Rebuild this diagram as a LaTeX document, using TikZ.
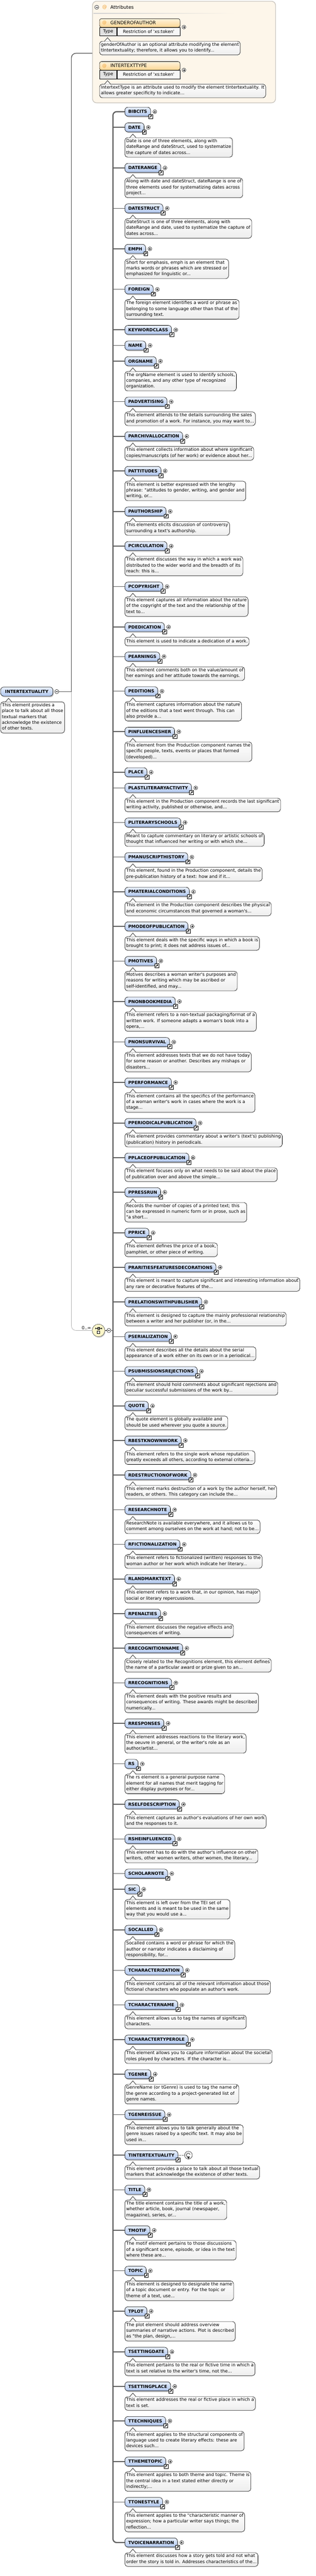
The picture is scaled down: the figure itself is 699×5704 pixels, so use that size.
\documentclass[tikz,border=0pt]{standalone}
\usepackage{fontspec}
\usepackage{tikz}
\usetikzlibrary{positioning,shadows,arrows.meta}

\newfontfamily\xsfont{DejaVu Sans}
\newcommand{\notefont}{\xsfont\fontsize{9.7}{13}\selectfont}
\newcommand{\elemfont}{\xsfont\bfseries\fontsize{9.5}{11}\selectfont}

\definecolor{elemtop}{HTML}{E9F0FC}
\definecolor{elembot}{HTML}{AFC6EE}
\definecolor{notebot}{HTML}{EDEDED}
\definecolor{attrfill}{HTML}{FDF6EA}
\definecolor{attrline}{HTML}{C9C5BE}
\definecolor{attrtop}{HTML}{FFF3DC}
\definecolor{attrbot}{HTML}{FBD694}
\definecolor{atcolor}{HTML}{F0A030}
\definecolor{typecell}{HTML}{E2E2E2}
\definecolor{compofill}{HTML}{FBF6C8}
\definecolor{linegray}{HTML}{5E5E5E}

\begin{document}
\begin{tikzpicture}[
                            x=1pt,
                            y=-1pt,
                            >=Stealth,
                            font=\notefont
                        ]
                        \tikzset{
                            expand/.style={circle,draw,fill=white,inner sep=0pt,minimum size=8.5pt,line width=.6pt,
                                path picture={\draw[line width=.6pt] (path picture bounding box.center) +(-2.3pt,0) -- +(2.3pt,0) +(0,-2.3pt) -- +(0,2.3pt);}},
                            collapse/.style={circle,draw,fill=white,inner sep=0pt,minimum size=9pt,line width=.6pt,
                                path picture={\draw[line width=.6pt] (path picture bounding box.center) +(-2.3pt,0) -- +(2.3pt,0);}},
                            refmark/.style={draw,fill=white,inner sep=0pt,minimum size=9pt,line width=.6pt,
                                path picture={\draw[line width=1.1pt,-{Triangle[length=3.2pt,width=3.6pt]}] ([shift={(-2.6pt,-2.6pt)}]path picture bounding box.center) -- ([shift={(2.8pt,2.8pt)}]path picture bounding box.center);}},
                            elembox/.style={draw,line width=.7pt,rounded corners=7pt,top color=elemtop,bottom color=elembot,
                                minimum height=20pt,inner xsep=7.5pt,inner ysep=0pt,text height=7pt,text depth=0pt,font=\elemfont,
                                drop shadow={shadow xshift=1.5pt,shadow yshift=-2.5pt,opacity=.45}},
                            elem/.style={elembox,anchor=north west,
                                label={[refmark,anchor=center]south east:{}},
                                label={[expand,label distance=4.5pt]east:{}}},
                            attrhead/.style={anchor=north west,draw,line width=.7pt,top color=attrtop,bottom color=attrbot,rounded corners=4pt,
                                minimum width=178pt,minimum height=19pt,drop shadow={shadow xshift=1.5pt,shadow yshift=-2.5pt,opacity=.4}},
                            attrcell/.style={anchor=north west,draw,line width=.7pt,minimum height=19pt,inner sep=0pt},
                            notebox/.style={draw,line width=.7pt,rounded corners=6pt,top color=white,bottom color=notebot,
                                align=left,anchor=north west,inner xsep=3pt,inner ysep=3pt,font=\notefont,
                                execute at begin node=\strut,execute at end node=\strut},
                            pointer/.style={draw,line width=.7pt,fill=white},
                            bus/.style={draw=linegray,line width=2.6pt,rounded corners=8pt},
                            link/.style={draw=linegray,line width=1.8pt},
                            attrlink/.style={draw=linegray,line width=1.6pt,rounded corners=10pt},
                            modellink/.style={draw=black!30,line width=.9pt,rounded corners=10pt}
                        }

                        \useasboundingbox (0,0) rectangle (699,5704);

                        % attributes
                        \node[draw=attrline,line width=1.5pt,fill=attrfill,rounded corners=9pt,anchor=north west,
                              minimum width=405pt,minimum height=225pt] (attrs) at (204,2) {};
                        \node[collapse] (attrsC) at (214,16) {};
                        \node[anchor=west,text=atcolor,inner sep=0pt] (attrsAt) at (226,16) {\xsfont\fontsize{10.5}{12}\selectfont @};
                        \node[anchor=west,inner sep=0pt] (attrsT) at (244,16) {\xsfont\fontsize{10.5}{12}\selectfont Attributes};
                        \shade[left color=black!18,right color=attrfill] (207,29) rectangle (520,30.2);

                        \node[attrhead] (gender) at (220,41) {};
                        \node[anchor=west,inner sep=0pt,text=atcolor] (genderAt) at ([xshift=6pt]gender.west) {@};
                        \node[anchor=west,inner sep=0pt,font=\xsfont\fontsize{10.3}{12}\selectfont] (genderT) at (244,50.5) {GENDEROFAUTHOR};
                        \node[attrcell,fill=typecell,minimum width=38pt] (genderTy) at (220,60) {Type};
                        \node[attrcell,fill=black!3,minimum width=140pt] (genderR) at (genderTy.north east) {Restriction of 'xs:token'};
                        \node[expand] (genderE) at (407,60) {};
                        \node[notebox] (genderN) at (220,91) {genderOfAuthor is an optional attribute modifying the element\\tIntertextuality; therefore, it allows you to identify...};

                        \node[attrhead] (itype) at (220,136) {};
                        \node[anchor=west,inner sep=0pt,text=atcolor] (itypeAt) at ([xshift=6pt]itype.west) {@};
                        \node[anchor=west,inner sep=0pt,font=\xsfont\fontsize{10.3}{12}\selectfont] (itypeT) at (244,145.5) {INTERTEXTTYPE};
                        \node[attrcell,fill=typecell,minimum width=38pt] (itypeTy) at (220,155) {Type};
                        \node[attrcell,fill=black!3,minimum width=140pt] (itypeR) at (itypeTy.north east) {Restriction of 'xs:token'};
                        \node[expand] (itypeE) at (407,155) {};
                        \node[notebox] (itypeN) at (220,186) {IntertextType is an attribute used to modify the element tIntertextuality. It\\allows greater specificity to indicate...};

                        % root and sequence
                        \node[elembox,anchor=north west,inner xsep=10pt] (root) at (1,1521) {INTERTEXTUALITY};
                        \node[collapse] (rootC) at ([xshift=8pt]root.east) {};
                        \node[notebox] (rootN) at ([yshift=-12pt]root.south west) {This element provides a\\place to talk about all those\\textual markers that\\acknowledge the existence\\of other texts.};
                        \coordinate (fork) at (rootC.east -| 158,0);
                        \node[circle,draw=black!70,line width=.7pt,fill=compofill,minimum size=28pt,inner sep=0pt,
                              drop shadow={shadow xshift=1.5pt,shadow yshift=-2pt,opacity=.4}] (seq) at (218,2946) {};
                        \node[anchor=south east,inner sep=1pt] (seqOcc) at ([xshift=-1pt,yshift=1pt]seq.west) {0..∞};
                        \node[collapse] (seqC) at (241,2946) {};
                        \coordinate (bus) at (250,2946);

                        \draw[attrlink] (fork) |- (attrs.west |- 0,118);
                        \draw[modellink] (fork) |- (seq.west);
                        \draw[attrlink] (rootC.east) -- (fork);
                        \draw[line width=.9pt] (seq.east) -- (seqC.west);
                        \draw[line width=.7pt] ([xshift=-7pt,yshift=4.5pt]seq.center) -- ([xshift=7pt,yshift=4.5pt]seq.center);
                        \draw[line width=.7pt] ([xshift=-7pt,yshift=6.5pt]seq.center) -- ([xshift=-7pt,yshift=2.5pt]seq.center)
                                               ([xshift=7pt,yshift=6.5pt]seq.center) -- ([xshift=7pt,yshift=2.5pt]seq.center);
                        \node[draw,fill=black!45,line width=.5pt,minimum size=5pt,inner sep=0pt] (seqA) at ([yshift=4.5pt]seq.center) {};
                        \node[draw,fill=white,line width=.5pt,minimum size=5.5pt,inner sep=0pt] (seqB) at ([yshift=-4pt]seq.center) {};

                        % children
                        \node[elem] (bibcits) at (276,237) {BIBCITS};
                        \node[elem] (date) [below=14pt of bibcits.south west,anchor=north west] {DATE};
                        \node[notebox] (dateN) [below=12pt of date.south west,anchor=north west] {Date is one of three elements, along with\\dateRange and dateStruct, used to systematize\\the capture of dates across...};
                        \node[elem] (daterange) [below=13pt of dateN.south west,anchor=north west] {DATERANGE};
                        \node[notebox] (daterangeN) [below=12pt of daterange.south west,anchor=north west] {Along with date and dateStruct, dateRange is one of\\three elements used for systematizing dates across\\project...};
                        \node[elem] (datestruct) [below=13pt of daterangeN.south west,anchor=north west] {DATESTRUCT};
                        \node[notebox] (datestructN) [below=12pt of datestruct.south west,anchor=north west] {DateStruct is one of three elements, along with\\dateRange and date, used to systematize the capture of\\dates across...};
                        \node[elem] (emph) [below=13pt of datestructN.south west,anchor=north west] {EMPH};
                        \node[notebox] (emphN) [below=12pt of emph.south west,anchor=north west] {Short for emphasis, emph is an element that\\marks words or phrases which are stressed or\\emphasized for linguistic or...};
                        \node[elem] (foreign) [below=13pt of emphN.south west,anchor=north west] {FOREIGN};
                        \node[notebox] (foreignN) [below=12pt of foreign.south west,anchor=north west] {The foreign element identifies a word or phrase as\\belonging to some language other than that of the\\surrounding text.};
                        \node[elem] (keywordclass) [below=13pt of foreignN.south west,anchor=north west] {KEYWORDCLASS};
                        \node[elem] (name) [below=14pt of keywordclass.south west,anchor=north west] {NAME};
                        \node[elem] (orgname) [below=14pt of name.south west,anchor=north west] {ORGNAME};
                        \node[notebox] (orgnameN) [below=12pt of orgname.south west,anchor=north west] {The orgName element is used to identify schools,\\companies, and any other type of recognized\\organization.};
                        \node[elem] (padvertising) [below=13pt of orgnameN.south west,anchor=north west] {PADVERTISING};
                        \node[notebox] (padvertisingN) [below=12pt of padvertising.south west,anchor=north west] {This element attends to the details surrounding the sales\\and promotion of a work. For instance, you may want to...};
                        \node[elem] (parchivallocation) [below=13pt of padvertisingN.south west,anchor=north west] {PARCHIVALLOCATION};
                        \node[notebox] (parchivallocationN) [below=12pt of parchivallocation.south west,anchor=north west] {This element collects information about where significant\\copies/manuscripts (of her work) or evidence about her...};
                        \node[elem] (pattitudes) [below=13pt of parchivallocationN.south west,anchor=north west] {PATTITUDES};
                        \node[notebox] (pattitudesN) [below=12pt of pattitudes.south west,anchor=north west] {This element is better expressed with the lengthy\\phrase: "attitudes to gender, writing, and gender and\\writing, or...};
                        \node[elem] (pauthorship) [below=13pt of pattitudesN.south west,anchor=north west] {PAUTHORSHIP};
                        \node[notebox] (pauthorshipN) [below=12pt of pauthorship.south west,anchor=north west] {This elements elicits discussion of controversy\\surrounding a text's authorship.};
                        \node[elem] (pcirculation) [below=13pt of pauthorshipN.south west,anchor=north west] {PCIRCULATION};
                        \node[notebox] (pcirculationN) [below=12pt of pcirculation.south west,anchor=north west] {This element discusses the way in which a work was\\distributed to the wider world and the breadth of its\\reach: this is...};
                        \node[elem] (pcopyright) [below=13pt of pcirculationN.south west,anchor=north west] {PCOPYRIGHT};
                        \node[notebox] (pcopyrightN) [below=12pt of pcopyright.south west,anchor=north west] {This element captures all information about the nature\\of the copyright of the text and the relationship of the\\text to...};
                        \node[elem] (pdedication) [below=13pt of pcopyrightN.south west,anchor=north west] {PDEDICATION};
                        \node[notebox] (pdedicationN) [below=12pt of pdedication.south west,anchor=north west] {This element is used to indicate a dedication of a work.};
                        \node[elem] (pearnings) [below=13pt of pdedicationN.south west,anchor=north west] {PEARNINGS};
                        \node[notebox] (pearningsN) [below=12pt of pearnings.south west,anchor=north west] {This element comments both on the value/amount of\\her earnings and her attitude towards the earnings.};
                        \node[elem] (peditions) [below=13pt of pearningsN.south west,anchor=north west] {PEDITIONS};
                        \node[notebox] (peditionsN) [below=12pt of peditions.south west,anchor=north west] {This element captures information about the nature\\of the editions that a text went through. This can\\also provide a...};
                        \node[elem] (pinfluencesher) [below=13pt of peditionsN.south west,anchor=north west] {PINFLUENCESHER};
                        \node[notebox] (pinfluencesherN) [below=12pt of pinfluencesher.south west,anchor=north west] {This element from the Production component names the\\specific people, texts, events or places that formed\\(developed)...};
                        \node[elem] (place) [below=13pt of pinfluencesherN.south west,anchor=north west] {PLACE};
                        \node[elem] (plastliteraryactivity) [below=14pt of place.south west,anchor=north west] {PLASTLITERARYACTIVITY};
                        \node[notebox] (plastliteraryactivityN) [below=12pt of plastliteraryactivity.south west,anchor=north west] {This element in the Production component records the last significant\\writing activity, published or otherwise, and...};
                        \node[elem] (pliteraryschools) [below=13pt of plastliteraryactivityN.south west,anchor=north west] {PLITERARYSCHOOLS};
                        \node[notebox] (pliteraryschoolsN) [below=12pt of pliteraryschools.south west,anchor=north west] {Meant to capture commentary on literary or artistic schools of\\thought that influenced her writing or with which she...};
                        \node[elem] (pmanuscripthistory) [below=13pt of pliteraryschoolsN.south west,anchor=north west] {PMANUSCRIPTHISTORY};
                        \node[notebox] (pmanuscripthistoryN) [below=12pt of pmanuscripthistory.south west,anchor=north west] {This element, found in the Production component, details the\\pre-publication history of a text: how and if it...};
                        \node[elem] (pmaterialconditions) [below=13pt of pmanuscripthistoryN.south west,anchor=north west] {PMATERIALCONDITIONS};
                        \node[notebox] (pmaterialconditionsN) [below=12pt of pmaterialconditions.south west,anchor=north west] {This element in the Production component describes the physical\\and economic circumstances that governed a woman's...};
                        \node[elem] (pmodeofpublication) [below=13pt of pmaterialconditionsN.south west,anchor=north west] {PMODEOFPUBLICATION};
                        \node[notebox] (pmodeofpublicationN) [below=12pt of pmodeofpublication.south west,anchor=north west] {This element deals with the specific ways in which a book is\\brought to print; it does not address issues of...};
                        \node[elem] (pmotives) [below=13pt of pmodeofpublicationN.south west,anchor=north west] {PMOTIVES};
                        \node[notebox] (pmotivesN) [below=12pt of pmotives.south west,anchor=north west] {Motives describes a woman writer's purposes and\\reasons for writing which may be ascribed or\\self-identified, and may...};
                        \node[elem] (pnonbookmedia) [below=13pt of pmotivesN.south west,anchor=north west] {PNONBOOKMEDIA};
                        \node[notebox] (pnonbookmediaN) [below=12pt of pnonbookmedia.south west,anchor=north west] {This element refers to a non-textual packaging/format of a\\written work. If someone adapts a woman's book into a\\opera,...};
                        \node[elem] (pnonsurvival) [below=13pt of pnonbookmediaN.south west,anchor=north west] {PNONSURVIVAL};
                        \node[notebox] (pnonsurvivalN) [below=12pt of pnonsurvival.south west,anchor=north west] {This element addresses texts that we do not have today\\for some reason or another. Describes any mishaps or\\disasters...};
                        \node[elem] (pperformance) [below=13pt of pnonsurvivalN.south west,anchor=north west] {PPERFORMANCE};
                        \node[notebox] (pperformanceN) [below=12pt of pperformance.south west,anchor=north west] {This element contains all the specifics of the performance\\of a woman writer's work in cases where the work is a\\stage...};
                        \node[elem] (pperiodicalpublication) [below=13pt of pperformanceN.south west,anchor=north west] {PPERIODICALPUBLICATION};
                        \node[notebox] (pperiodicalpublicationN) [below=12pt of pperiodicalpublication.south west,anchor=north west] {This element provides commentary about a writer's (text's) publishing\\(publication) history in periodicals.};
                        \node[elem] (pplaceofpublication) [below=13pt of pperiodicalpublicationN.south west,anchor=north west] {PPLACEOFPUBLICATION};
                        \node[notebox] (pplaceofpublicationN) [below=12pt of pplaceofpublication.south west,anchor=north west] {This element focuses only on what needs to be said about the place\\of publication over and above the simple...};
                        \node[elem] (ppressrun) [below=13pt of pplaceofpublicationN.south west,anchor=north west] {PPRESSRUN};
                        \node[notebox] (ppressrunN) [below=12pt of ppressrun.south west,anchor=north west] {Records the number of copies of a printed text; this\\can be expressed in numeric form or in prose, such as\\"a short...};
                        \node[elem] (pprice) [below=13pt of ppressrunN.south west,anchor=north west] {PPRICE};
                        \node[notebox] (ppriceN) [below=12pt of pprice.south west,anchor=north west] {This element defines the price of a book,\\pamphlet, or other piece of writing.};
                        \node[elem] (praritiesfeaturesdecorations) [below=13pt of ppriceN.south west,anchor=north west] {PRARITIESFEATURESDECORATIONS};
                        \node[notebox] (praritiesfeaturesdecorationsN) [below=12pt of praritiesfeaturesdecorations.south west,anchor=north west] {This element is meant to capture significant and interesting information about\\any rare or decorative features of the...};
                        \node[elem] (prelationswithpublisher) [below=13pt of praritiesfeaturesdecorationsN.south west,anchor=north west] {PRELATIONSWITHPUBLISHER};
                        \node[notebox] (prelationswithpublisherN) [below=12pt of prelationswithpublisher.south west,anchor=north west] {This element is designed to capture the mainly professional relationship\\between a writer and her publisher (or, in the...};
                        \node[elem] (pserialization) [below=13pt of prelationswithpublisherN.south west,anchor=north west] {PSERIALIZATION};
                        \node[notebox] (pserializationN) [below=12pt of pserialization.south west,anchor=north west] {This element describes all the details about the serial\\appearance of a work either on its own or in a periodical...};
                        \node[elem] (psubmissionsrejections) [below=13pt of pserializationN.south west,anchor=north west] {PSUBMISSIONSREJECTIONS};
                        \node[notebox] (psubmissionsrejectionsN) [below=12pt of psubmissionsrejections.south west,anchor=north west] {This element should hold comments about significant rejections and\\peculiar successful submissions of the work by...};
                        \node[elem] (quote) [below=13pt of psubmissionsrejectionsN.south west,anchor=north west] {QUOTE};
                        \node[notebox] (quoteN) [below=12pt of quote.south west,anchor=north west] {The quote element is globally available and\\should be used wherever you quote a source.};
                        \node[elem] (rbestknownwork) [below=13pt of quoteN.south west,anchor=north west] {RBESTKNOWNWORK};
                        \node[notebox] (rbestknownworkN) [below=12pt of rbestknownwork.south west,anchor=north west] {This element refers to the single work whose reputation\\greatly exceeds all others, according to external criteria...};
                        \node[elem] (rdestructionofwork) [below=13pt of rbestknownworkN.south west,anchor=north west] {RDESTRUCTIONOFWORK};
                        \node[notebox] (rdestructionofworkN) [below=12pt of rdestructionofwork.south west,anchor=north west] {This element marks destruction of a work by the author herself, her\\readers, or others. This category can include the...};
                        \node[elem] (researchnote) [below=13pt of rdestructionofworkN.south west,anchor=north west] {RESEARCHNOTE};
                        \node[notebox] (researchnoteN) [below=12pt of researchnote.south west,anchor=north west] {ResearchNote is available everywhere, and it allows us to\\comment among ourselves on the work at hand; not to be...};
                        \node[elem] (rfictionalization) [below=13pt of researchnoteN.south west,anchor=north west] {RFICTIONALIZATION};
                        \node[notebox] (rfictionalizationN) [below=12pt of rfictionalization.south west,anchor=north west] {This element refers to fictionalized (written) responses to the\\woman author or her work which indicate her literary...};
                        \node[elem] (rlandmarktext) [below=13pt of rfictionalizationN.south west,anchor=north west] {RLANDMARKTEXT};
                        \node[notebox] (rlandmarktextN) [below=12pt of rlandmarktext.south west,anchor=north west] {This element refers to a work that, in our opinion, has major\\social or literary repercussions.};
                        \node[elem] (rpenalties) [below=13pt of rlandmarktextN.south west,anchor=north west] {RPENALTIES};
                        \node[notebox] (rpenaltiesN) [below=12pt of rpenalties.south west,anchor=north west] {This element discusses the negative effects and\\consequences of writing.};
                        \node[elem] (rrecognitionname) [below=13pt of rpenaltiesN.south west,anchor=north west] {RRECOGNITIONNAME};
                        \node[notebox] (rrecognitionnameN) [below=12pt of rrecognitionname.south west,anchor=north west] {Closely related to the Recognitions element, this element defines\\the name of a particular award or prize given to an...};
                        \node[elem] (rrecognitions) [below=13pt of rrecognitionnameN.south west,anchor=north west] {RRECOGNITIONS};
                        \node[notebox] (rrecognitionsN) [below=12pt of rrecognitions.south west,anchor=north west] {This element deals with the positive results and\\consequences of writing. These awards might be described\\numerically...};
                        \node[elem] (rresponses) [below=13pt of rrecognitionsN.south west,anchor=north west] {RRESPONSES};
                        \node[notebox] (rresponsesN) [below=12pt of rresponses.south west,anchor=north west] {This element addresses reactions to the literary work,\\the oeuvre in general, or the writer's role as an\\author/artist...};
                        \node[elem] (rs) [below=13pt of rresponsesN.south west,anchor=north west] {RS};
                        \node[notebox] (rsN) [below=12pt of rs.south west,anchor=north west] {The rs element is a general purpose name\\element for all names that merit tagging for\\either display purposes or for...};
                        \node[elem] (rselfdescription) [below=13pt of rsN.south west,anchor=north west] {RSELFDESCRIPTION};
                        \node[notebox] (rselfdescriptionN) [below=12pt of rselfdescription.south west,anchor=north west] {This element captures an author's evaluations of her own work\\and the responses to it.};
                        \node[elem] (rsheinfluenced) [below=13pt of rselfdescriptionN.south west,anchor=north west] {RSHEINFLUENCED};
                        \node[notebox] (rsheinfluencedN) [below=12pt of rsheinfluenced.south west,anchor=north west] {This element has to do with the author's influence on other\\writers, other women writers, other women, the literary...};
                        \node[elem] (scholarnote) [below=13pt of rsheinfluencedN.south west,anchor=north west] {SCHOLARNOTE};
                        \node[elem] (sic) [below=14pt of scholarnote.south west,anchor=north west] {SIC};
                        \node[notebox] (sicN) [below=12pt of sic.south west,anchor=north west] {This element is left over from the TEI set of\\elements and is meant to be used in the same\\way that you would use a...};
                        \node[elem] (socalled) [below=13pt of sicN.south west,anchor=north west] {SOCALLED};
                        \node[notebox] (socalledN) [below=12pt of socalled.south west,anchor=north west] {Socalled contains a word or phrase for which the\\author or narrator indicates a disclaiming of\\responsibility, for...};
                        \node[elem] (tcharacterization) [below=13pt of socalledN.south west,anchor=north west] {TCHARACTERIZATION};
                        \node[notebox] (tcharacterizationN) [below=12pt of tcharacterization.south west,anchor=north west] {This element contains all of the relevant information about those\\fictional characters who populate an author's work.};
                        \node[elem] (tcharactername) [below=13pt of tcharacterizationN.south west,anchor=north west] {TCHARACTERNAME};
                        \node[notebox] (tcharacternameN) [below=12pt of tcharactername.south west,anchor=north west] {This element allows us to tag the names of significant\\characters.};
                        \node[elem] (tcharactertyperole) [below=13pt of tcharacternameN.south west,anchor=north west] {TCHARACTERTYPEROLE};
                        \node[notebox] (tcharactertyperoleN) [below=12pt of tcharactertyperole.south west,anchor=north west] {This element allows you to capture information about the societal\\roles played by characters. If the character is...};
                        \node[elem] (tgenre) [below=13pt of tcharactertyperoleN.south west,anchor=north west] {TGENRE};
                        \node[notebox] (tgenreN) [below=12pt of tgenre.south west,anchor=north west] {GenreName (or tGenre) is used to tag the name of\\the genre according to a project-generated list of\\genre names.};
                        \node[elem] (tgenreissue) [below=13pt of tgenreN.south west,anchor=north west] {TGENREISSUE};
                        \node[notebox] (tgenreissueN) [below=12pt of tgenreissue.south west,anchor=north west] {This element allows you to talk generally about the\\genre issues raised by a specific text. It may also be\\used in...};
                        \node[elembox,anchor=north west,label={[refmark,anchor=center]south east:{}}] (tintertextuality) [below=13pt of tgenreissueN.south west,anchor=north west] {TINTERTEXTUALITY};
                        \node[notebox] (tintertextualityN) [below=12pt of tintertextuality.south west,anchor=north west] {This element provides a place to talk about all those textual\\markers that acknowledge the existence of other texts.};
                        \node[elem] (title) [below=13pt of tintertextualityN.south west,anchor=north west] {TITLE};
                        \node[notebox] (titleN) [below=12pt of title.south west,anchor=north west] {The title element contains the title of a work,\\whether article, book, journal (newspaper,\\magazine), series, or...};
                        \node[elem] (tmotif) [below=13pt of titleN.south west,anchor=north west] {TMOTIF};
                        \node[notebox] (tmotifN) [below=12pt of tmotif.south west,anchor=north west] {The motif element pertains to those discussions\\of a significant scene, episode, or idea in the text\\where these are...};
                        \node[elem] (topic) [below=13pt of tmotifN.south west,anchor=north west] {TOPIC};
                        \node[notebox] (topicN) [below=12pt of topic.south west,anchor=north west] {This element is designed to designate the name\\of a topic document or entry. For the topic or\\theme of a text, use...};
                        \node[elem] (tplot) [below=13pt of topicN.south west,anchor=north west] {TPLOT};
                        \node[notebox] (tplotN) [below=12pt of tplot.south west,anchor=north west] {The plot element should address overview\\summaries of narrative actions. Plot is described\\as "the plan, design,...};
                        \node[elem] (tsettingdate) [below=13pt of tplotN.south west,anchor=north west] {TSETTINGDATE};
                        \node[notebox] (tsettingdateN) [below=12pt of tsettingdate.south west,anchor=north west] {This element pertains to the real or fictive time in which a\\text is set relative to the writer's time, not the...};
                        \node[elem] (tsettingplace) [below=13pt of tsettingdateN.south west,anchor=north west] {TSETTINGPLACE};
                        \node[notebox] (tsettingplaceN) [below=12pt of tsettingplace.south west,anchor=north west] {This element addresses the real or fictive place in which a\\text is set.};
                        \node[elem] (ttechniques) [below=13pt of tsettingplaceN.south west,anchor=north west] {TTECHNIQUES};
                        \node[notebox] (ttechniquesN) [below=12pt of ttechniques.south west,anchor=north west] {This element applies to the structural components of\\language used to create literary effects: these are\\devices such...};
                        \node[elem] (tthemetopic) [below=13pt of ttechniquesN.south west,anchor=north west] {TTHEMETOPIC};
                        \node[notebox] (tthemetopicN) [below=12pt of tthemetopic.south west,anchor=north west] {This element applies to both theme and topic. Theme is\\the central idea in a text stated either directly or\\indirectly;...};
                        \node[elem] (ttonestyle) [below=13pt of tthemetopicN.south west,anchor=north west] {TTONESTYLE};
                        \node[notebox] (ttonestyleN) [below=12pt of ttonestyle.south west,anchor=north west] {This element applies to the "characteristic manner of\\expression; how a particular writer says things; the\\reflection...};
                        \node[elem] (tvoicenarration) [below=13pt of ttonestyleN.south west,anchor=north west] {TVOICENARRATION};
                        \node[notebox] (tvoicenarrationN) [below=12pt of tvoicenarration.south west,anchor=north west] {This element discusses how a story gets told and not what\\order the story is told in. Addresses characteristics of the...};

                        % recursion mark
                        \node[circle,draw,line width=.6pt,fill=white,minimum size=17pt,inner sep=0pt] (recur) at ([xshift=23pt]tintertextuality.east) {};
                        \draw[dotted,line width=.8pt] (tintertextuality.east) -- (recur.west);
                        \draw[line width=.8pt,->] ([shift={(3.5pt,1.5pt)}]recur.center) arc[start angle=20,end angle=320,radius=4.2pt];

                        % connectors
                        \draw[bus] (bibcits.west) -| (bus) |- (tvoicenarration.west);
                        \draw[link] (seqC.east) -- (bus);
                        \path[link]
                        (bus |- date.west) -- (date.west)
                        (bus |- daterange.west) -- (daterange.west)
                        (bus |- datestruct.west) -- (datestruct.west)
                        (bus |- emph.west) -- (emph.west)
                        (bus |- foreign.west) -- (foreign.west)
                        (bus |- keywordclass.west) -- (keywordclass.west)
                        (bus |- name.west) -- (name.west)
                        (bus |- orgname.west) -- (orgname.west)
                        (bus |- padvertising.west) -- (padvertising.west)
                        (bus |- parchivallocation.west) -- (parchivallocation.west)
                        (bus |- pattitudes.west) -- (pattitudes.west)
                        (bus |- pauthorship.west) -- (pauthorship.west)
                        (bus |- pcirculation.west) -- (pcirculation.west)
                        (bus |- pcopyright.west) -- (pcopyright.west)
                        (bus |- pdedication.west) -- (pdedication.west)
                        (bus |- pearnings.west) -- (pearnings.west)
                        (bus |- peditions.west) -- (peditions.west)
                        (bus |- pinfluencesher.west) -- (pinfluencesher.west)
                        (bus |- place.west) -- (place.west)
                        (bus |- plastliteraryactivity.west) -- (plastliteraryactivity.west)
                        (bus |- pliteraryschools.west) -- (pliteraryschools.west)
                        (bus |- pmanuscripthistory.west) -- (pmanuscripthistory.west)
                        (bus |- pmaterialconditions.west) -- (pmaterialconditions.west)
                        (bus |- pmodeofpublication.west) -- (pmodeofpublication.west)
                        (bus |- pmotives.west) -- (pmotives.west)
                        (bus |- pnonbookmedia.west) -- (pnonbookmedia.west)
                        (bus |- pnonsurvival.west) -- (pnonsurvival.west)
                        (bus |- pperformance.west) -- (pperformance.west)
                        (bus |- pperiodicalpublication.west) -- (pperiodicalpublication.west)
                        (bus |- pplaceofpublication.west) -- (pplaceofpublication.west)
                        (bus |- ppressrun.west) -- (ppressrun.west)
                        (bus |- pprice.west) -- (pprice.west)
                        (bus |- praritiesfeaturesdecorations.west) -- (praritiesfeaturesdecorations.west)
                        (bus |- prelationswithpublisher.west) -- (prelationswithpublisher.west)
                        (bus |- pserialization.west) -- (pserialization.west)
                        (bus |- psubmissionsrejections.west) -- (psubmissionsrejections.west)
                        (bus |- quote.west) -- (quote.west)
                        (bus |- rbestknownwork.west) -- (rbestknownwork.west)
                        (bus |- rdestructionofwork.west) -- (rdestructionofwork.west)
                        (bus |- researchnote.west) -- (researchnote.west)
                        (bus |- rfictionalization.west) -- (rfictionalization.west)
                        (bus |- rlandmarktext.west) -- (rlandmarktext.west)
                        (bus |- rpenalties.west) -- (rpenalties.west)
                        (bus |- rrecognitionname.west) -- (rrecognitionname.west)
                        (bus |- rrecognitions.west) -- (rrecognitions.west)
                        (bus |- rresponses.west) -- (rresponses.west)
                        (bus |- rs.west) -- (rs.west)
                        (bus |- rselfdescription.west) -- (rselfdescription.west)
                        (bus |- rsheinfluenced.west) -- (rsheinfluenced.west)
                        (bus |- scholarnote.west) -- (scholarnote.west)
                        (bus |- sic.west) -- (sic.west)
                        (bus |- socalled.west) -- (socalled.west)
                        (bus |- tcharacterization.west) -- (tcharacterization.west)
                        (bus |- tcharactername.west) -- (tcharactername.west)
                        (bus |- tcharactertyperole.west) -- (tcharactertyperole.west)
                        (bus |- tgenre.west) -- (tgenre.west)
                        (bus |- tgenreissue.west) -- (tgenreissue.west)
                        (bus |- tintertextuality.west) -- (tintertextuality.west)
                        (bus |- title.west) -- (title.west)
                        (bus |- tmotif.west) -- (tmotif.west)
                        (bus |- topic.west) -- (topic.west)
                        (bus |- tplot.west) -- (tplot.west)
                        (bus |- tsettingdate.west) -- (tsettingdate.west)
                        (bus |- tsettingplace.west) -- (tsettingplace.west)
                        (bus |- ttechniques.west) -- (ttechniques.west)
                        (bus |- tthemetopic.west) -- (tthemetopic.west)
                        (bus |- ttonestyle.west) -- (ttonestyle.west)
                        ;

                        % note pointers
                        \foreach \n in {genderN,itypeN,rootN,dateN,daterangeN,datestructN,emphN,foreignN,orgnameN,padvertisingN,
                            parchivallocationN,pattitudesN,pauthorshipN,pcirculationN,pcopyrightN,pdedicationN,pearningsN,peditionsN,
                            pinfluencesherN,plastliteraryactivityN,pliteraryschoolsN,pmanuscripthistoryN,pmaterialconditionsN,
                            pmodeofpublicationN,pmotivesN,pnonbookmediaN,pnonsurvivalN,pperformanceN,pperiodicalpublicationN,
                            pplaceofpublicationN,ppressrunN,ppriceN,praritiesfeaturesdecorationsN,prelationswithpublisherN,
                            pserializationN,psubmissionsrejectionsN,quoteN,rbestknownworkN,rdestructionofworkN,researchnoteN,
                            rfictionalizationN,rlandmarktextN,rpenaltiesN,rrecognitionnameN,rrecognitionsN,rresponsesN,rsN,
                            rselfdescriptionN,rsheinfluencedN,sicN,socalledN,tcharacterizationN,tcharacternameN,tcharactertyperoleN,
                            tgenreN,tgenreissueN,tintertextualityN,titleN,tmotifN,topicN,tplotN,tsettingdateN,tsettingplaceN,
                            ttechniquesN,tthemetopicN,ttonestyleN,tvoicenarrationN}
                            \path[pointer] ([shift={(11pt,-.6pt)}]\n.north west) -- ([shift={(18pt,7.5pt)}]\n.north west) -- ([shift={(25pt,-.6pt)}]\n.north west);
                    \end{tikzpicture}
\end{document}
